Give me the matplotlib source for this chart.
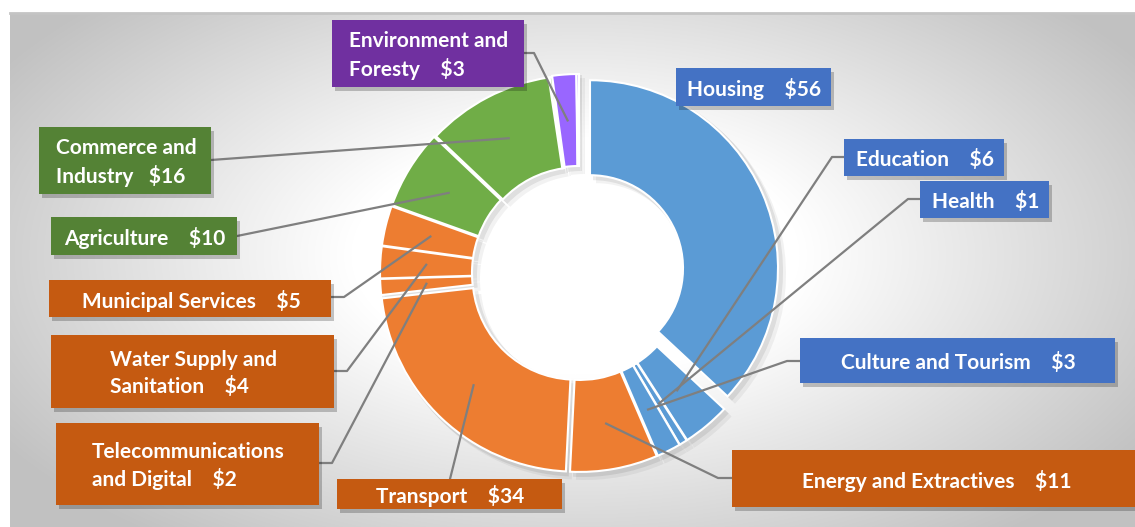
import numpy as np
import matplotlib.pyplot as plt
from matplotlib.patches import Rectangle

W, H = 1135, 527

# ---- data (US$ millions by sector) ----
categories = ["Housing", "Education", "Health", "Culture and Tourism",
              "Energy and Extractives", "Transport",
              "Telecommunications\nand Digital", "Water Supply and\nSanitation",
              "Municipal Services", "Agriculture", "Commerce and\nIndustry",
              "", "Environment and\nForesty", ""]
values = [56, 6, 1, 3, 11, 34, 2, 4, 5, 10, 16, 0.3, 3, 0.3]
groups = ["blue", "blue", "blue", "blue", "orange", "orange", "orange",
          "orange", "orange", "green", "green", "green", "purple", "purple"]
gaps = ["    "] * 10 + ["   ", "", "    ", ""]

slice_col = {"blue": "#5B9BD5", "orange": "#ED7D31", "green": "#70AD47", "purple": "#9966FF"}
box_col = {"blue": "#4472C4", "orange": "#C55A11", "green": "#548235", "purple": "#7030A0"}
explode = [12, 4, 4, 4, 4, 5, 4, 4, 4, 4, 3, 3, 4, 4]

# label boxes in image pixels: x0, y0, x1, y1, leader (side, y or x, stub)
boxes = {
    "Housing": (676, 68, 831, 106, None),
    "Education": (844, 139, 1004, 176, ("left", 157, 12)),
    "Health": (920, 181, 1049, 218, ("left", 199, 12)),
    "Culture and Tourism": (800, 338, 1115, 383, ("left", 361, 13)),
    "Energy and Extractives": (732, 450, 1140, 507, ("left", 478, 14)),
    "Transport": (337, 479, 562, 509, ("top", 450, 0)),
    "Telecommunications\nand Digital": (56, 423, 319, 505, ("right", 463, 13)),
    "Water Supply and\nSanitation": (51, 335, 334, 408, ("right", 371, 13)),
    "Municipal Services": (49, 280, 331, 317, ("right", 297, 13)),
    "Agriculture": (51, 217, 237, 255, ("right", 236, 0)),
    "Commerce and\nIndustry": (39, 127, 211, 194, ("right", 160, 0)),
    "Environment and\nForesty": (332, 20, 524, 87, ("right", 53, 10)),
}


def Y(y):
    return H - y


fig = plt.figure(figsize=(W / 100, H / 100), dpi=100)
ax = fig.add_axes([0, 0, 1, 1])

# radial grey background of the chart area
top = 13
yy, xx = np.mgrid[top:H, 10:W]
d = np.hypot((xx - 575) / 640, (yy - 255) / 340)
g = 1 - 0.24 * np.clip((d - 0.35) / 0.7, 0, 1)
ax.imshow(np.dstack([g, g, g]), extent=(10, W, 0, Y(top)), origin="upper",
          zorder=0, aspect="auto")
ax.plot([10, W], [Y(top), Y(top)], color="#c4c4c4", lw=2, zorder=1)

center = (579, Y(273))
R, ring = 195, 92
colors = [slice_col[g_] for g_ in groups]

# soft shadow then the ring itself
for off, a in ((6, 0.05), (3, 0.08)):
    sw, _ = ax.pie(values, startangle=90, counterclock=False, radius=R + 2,
                   center=(center[0] + off, center[1] - off), explode=explode,
                   colors=["black"] * len(values), frame=True,
                   wedgeprops=dict(width=ring + 4, alpha=a, linewidth=0))
    sw[0].set_radius(190)
    sw[0].set_width(99)
wedges, _ = ax.pie(values, colors=colors, startangle=90, counterclock=False,
                   radius=R, center=center, explode=explode, frame=True,
                   wedgeprops=dict(width=ring, edgecolor="white", linewidth=1.5))
# the pulled-out housing slice is drawn a bit smaller, as in the original
wedges[0].set_radius(188)
wedges[0].set_width(95)

for w, name, val, grp, gap in zip(wedges, categories, values, groups, gaps):
    if not name:
        continue
    x0, y0, x1, y1, lead = boxes[name]
    ax.add_patch(Rectangle((x0 + 3, Y(y1) - 4), x1 - x0, y1 - y0, fc="black",
                           alpha=0.22, ec="none", zorder=4))
    ax.add_patch(Rectangle((x0, Y(y1)), x1 - x0, y1 - y0, fc=box_col[grp],
                           ec="none", zorder=5))
    ax.text((x0 + x1) / 2 + 1, Y((y0 + y1) / 2 + 2), f"{name}{gap}${val:g}", color="white",
            fontsize=15, fontweight="bold", family="Lato", ha="center",
            va="center", multialignment="left", linespacing=1.38, zorder=6)
    if lead is None:
        continue
    # leader goes to the middle of the slice
    mid = np.deg2rad((w.theta1 + w.theta2) / 2)
    rm = w.r - w.width / 2
    ex, ey = w.center[0] + rm * np.cos(mid), w.center[1] + rm * np.sin(mid)
    side, pos, stub = lead
    if side == "left":
        pts = [(x0, Y(pos)), (x0 - stub, Y(pos)), (ex, ey)]
    elif side == "right":
        pts = [(x1, Y(pos)), (x1 + stub, Y(pos)), (ex, ey)]
    else:
        pts = [(pos, Y(y0)), (ex, ey)]
    px, py = zip(*pts)
    ax.plot(px, py, color="#7f7f7f", lw=1.6, zorder=3)

ax.set_xlim(0, W)
ax.set_ylim(0, H)
ax.set_aspect("auto")
ax.axis("off")
fig.savefig("out.png", dpi=100)
